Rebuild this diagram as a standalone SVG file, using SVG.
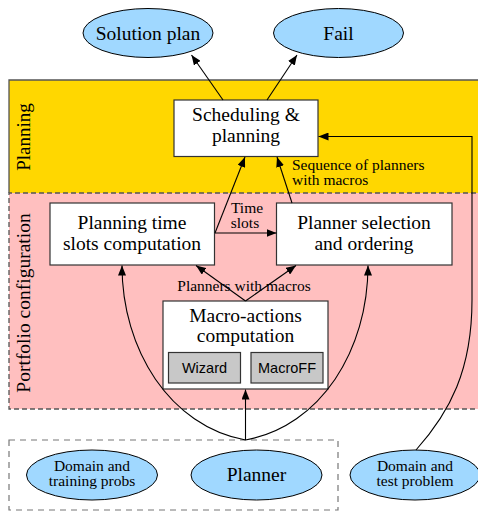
<svg xmlns="http://www.w3.org/2000/svg" width="478" height="512" viewBox="0 0 478 512">
<defs>
<marker id="ah" viewBox="0 0 10 8" refX="10" refY="4" markerWidth="10" markerHeight="8" markerUnits="userSpaceOnUse" orient="auto">
<path d="M0,0 L10,4 L0,8 Z" fill="#000"/>
</marker>
</defs>
<style>
.big{font-size:19.5px}
.lab{font-size:15.5px}
.sans{font-size:14.5px}
.box{fill:#fff;stroke:#333;stroke-width:1.2}
.gbox{fill:#c8c8c8;stroke:#333;stroke-width:1.2}
.ell{fill:#a0d8ff;stroke:#000;stroke-width:1}
.edge{fill:none;stroke:#000;stroke-width:1.1}
.arr{marker-end:url(#ah)}
</style>
<g font-family="Liberation Serif, Times New Roman, serif" fill="#000">
<g id="planning-region">
<rect x="9" y="80" width="475" height="113" fill="#ffd700"/>
<path d="M9,193 L9,80 L484,80" fill="none" stroke="#555" stroke-width="1.3"/>
<text font-size="19" text-anchor="middle" transform="translate(30,137) rotate(-90)">Planning</text>
</g>
<g id="portfolio-region">
<rect x="9" y="193" width="475" height="216" fill="#ffbfbf"/>
<path d="M484,193 L9,193 L9,409 L484,409" fill="none" stroke="#555" stroke-width="1.3" stroke-dasharray="5,3"/>
<text font-size="19.5" text-anchor="middle" transform="translate(30,303) rotate(-90)">Portfolio configuration</text>
</g>
<g id="inputs-group">
<rect x="9" y="440" width="329" height="70" fill="none" stroke="#777" stroke-width="1.2" stroke-dasharray="6,5"/>
</g>
<g id="solution-plan">
<ellipse class="ell" cx="148" cy="33" rx="65" ry="24.5"/>
<text class="big" x="148" y="39.5" text-anchor="middle">Solution plan</text>
</g>
<g id="fail">
<ellipse class="ell" cx="338.5" cy="33" rx="65" ry="24.5"/>
<text class="big" x="338.5" y="39.5" text-anchor="middle">Fail</text>
</g>
<g id="scheduling">
<rect class="box" x="174" y="100" width="144" height="56.5"/>
<text class="big" x="246" y="121" text-anchor="middle">Scheduling &amp;</text>
<text class="big" x="246" y="142" text-anchor="middle">planning</text>
</g>
<g id="time-slots">
<rect class="box" x="50" y="203" width="164.5" height="62"/>
<text class="big" x="132" y="229" text-anchor="middle">Planning time</text>
<text class="big" x="132" y="249.5" text-anchor="middle">slots computation</text>
</g>
<g id="planner-selection">
<rect class="box" x="276.5" y="203" width="175.5" height="62"/>
<text class="big" x="364" y="229" text-anchor="middle">Planner selection</text>
<text class="big" x="364" y="249.5" text-anchor="middle">and ordering</text>
</g>
<g id="macro-actions">
<rect class="box" x="163" y="301" width="165" height="88"/>
<text class="big" x="245.5" y="322" text-anchor="middle">Macro-actions</text>
<text class="big" x="245.5" y="342" text-anchor="middle">computation</text>
<g id="wizard">
<rect class="gbox" x="168.5" y="352.5" width="72" height="30.5"/>
<text class="sans" font-family="Liberation Sans, Arial, sans-serif" x="204.5" y="373" text-anchor="middle">Wizard</text>
</g>
<g id="macroff">
<rect class="gbox" x="251" y="352.5" width="72" height="30.5"/>
<text class="sans" font-family="Liberation Sans, Arial, sans-serif" x="287" y="373" text-anchor="middle">MacroFF</text>
</g>
</g>
<g id="domain-training">
<ellipse class="ell" cx="92" cy="475" rx="65.5" ry="25"/>
<text class="lab" x="92" y="470.5" text-anchor="middle">Domain and</text>
<text class="lab" x="92" y="486" text-anchor="middle">training probs</text>
</g>
<g id="planner">
<ellipse class="ell" cx="256.5" cy="475" rx="65.5" ry="25"/>
<text class="big" x="256.5" y="481" text-anchor="middle">Planner</text>
</g>
<g id="domain-test">
<ellipse class="ell" cx="415" cy="475" rx="65" ry="25"/>
<text class="lab" x="415" y="470.5" text-anchor="middle">Domain and</text>
<text class="lab" x="415" y="486" text-anchor="middle">test problem</text>
</g>
<g id="connectors">
<line class="edge arr" x1="223" y1="100" x2="191.5" y2="55"/>
<line class="edge arr" x1="267" y1="100" x2="297" y2="55"/>
<line class="edge arr" x1="215" y1="233" x2="245" y2="157"/>
<line class="edge arr" x1="292" y1="203" x2="277" y2="157"/>
<line class="edge arr" x1="215" y1="233" x2="276.5" y2="233"/>
<line class="edge arr" x1="245.5" y1="301" x2="196" y2="265.5"/>
<line class="edge arr" x1="245.5" y1="301" x2="296" y2="265.5"/>
<line class="edge arr" x1="245.5" y1="440" x2="245.5" y2="389.5"/>
<path class="edge arr" d="M245.5,440 C170,426 122,350 122,265.5"/>
<path class="edge arr" d="M245.5,440 C321,426 368,350 368,265.5"/>
<path class="edge arr" d="M416,450 C450,412 472,370 472,300 L472,136.5 L318.5,136.5"/>
<text class="lab" x="292" y="169.5">Sequence of planners</text>
<text class="lab" x="292" y="185">with macros</text>
<text class="lab" x="247" y="212.5" text-anchor="middle">Time</text>
<text class="lab" x="245" y="228" text-anchor="middle">slots</text>
<text class="lab" x="244" y="291" text-anchor="middle">Planners with macros</text>
</g>
</g>
</svg>
